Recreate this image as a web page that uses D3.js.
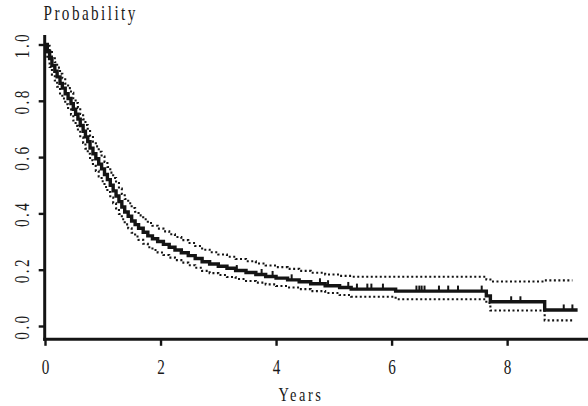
<!DOCTYPE html>
<html>
<head>
<meta charset="utf-8">
<script src="https://cdn.jsdelivr.net/npm/d3@7"></script>
<style>
  html, body { margin: 0; padding: 0; background: #fff; }
  svg { display: block; }
  text { font-family: "Liberation Serif", "Times New Roman", serif; fill: #1a1a1a; }
</style>
</head>
<body>
<svg id="chart" width="588" height="406"></svg>
<script>
// ---- data ----
const eventTimes = [0.04,0.08,0.12,0.17,0.21,0.26,0.30,0.35,0.40,0.45,0.49,0.53,0.57,0.61,0.66,0.70,0.74,0.78,0.83,0.88,0.93,0.98,1.03,1.08,1.13,1.18,1.23,1.28,1.33,1.38,1.44,1.50,1.56,1.62,1.70,1.78,1.86,1.95,2.05,2.15,2.25,2.36,2.48,2.60,2.72,2.85,3.00,3.15,3.30,3.48,3.65,3.82,4.00,4.20,4.40,4.60,4.85,5.10,5.30,6.07,7.64,7.71,8.65];
const survival = [0.975,0.950,0.925,0.905,0.885,0.862,0.845,0.825,0.808,0.790,0.770,0.752,0.735,0.712,0.692,0.672,0.655,0.632,0.612,0.594,0.575,0.558,0.538,0.520,0.500,0.480,0.462,0.442,0.423,0.405,0.390,0.373,0.360,0.347,0.333,0.320,0.310,0.300,0.290,0.280,0.270,0.260,0.250,0.240,0.228,0.220,0.212,0.205,0.197,0.190,0.183,0.176,0.170,0.164,0.157,0.150,0.143,0.137,0.131,0.124,0.107,0.086,0.057];
const upperCI = [0.995,0.978,0.955,0.937,0.918,0.896,0.880,0.861,0.845,0.828,0.809,0.792,0.775,0.753,0.734,0.714,0.697,0.675,0.655,0.638,0.619,0.602,0.583,0.565,0.545,0.526,0.508,0.488,0.469,0.451,0.436,0.419,0.406,0.393,0.379,0.366,0.356,0.346,0.336,0.326,0.316,0.305,0.295,0.284,0.271,0.262,0.254,0.246,0.238,0.230,0.222,0.215,0.209,0.203,0.196,0.189,0.183,0.178,0.175,0.175,0.165,0.158,0.162];
const lowerCI = [0.950,0.920,0.893,0.872,0.850,0.826,0.808,0.788,0.770,0.751,0.730,0.711,0.694,0.670,0.650,0.630,0.612,0.589,0.569,0.551,0.531,0.514,0.494,0.476,0.456,0.436,0.418,0.398,0.379,0.361,0.347,0.331,0.318,0.306,0.292,0.280,0.270,0.261,0.252,0.243,0.234,0.225,0.216,0.207,0.196,0.188,0.181,0.174,0.167,0.160,0.154,0.148,0.142,0.137,0.131,0.124,0.117,0.110,0.104,0.095,0.082,0.055,0.020];
const censorTimes = [3.32,3.75,3.94,4.27,4.76,4.90,5.25,5.40,5.58,5.65,5.85,6.43,6.48,6.52,6.57,6.82,6.98,7.15,7.56,8.07,8.23,8.98,9.13];
const lastFollowUp = 9.22;
const lastCITime = 9.13;
const xTicks = [0,2,4,6,8];
const yTicks = [0.0,0.2,0.4,0.6,0.8,1.0];
const xLabel = "Years";
const yLabel = "Probability";

// ---- layout ----
const svg = d3.select("#chart");
svg.append("rect").attr("width",588).attr("height",406).attr("fill","#fff");

const x = d3.scaleLinear().domain([0, 9.4]).range([45, 588]);
const y = d3.scaleLinear().domain([0, 1]).range([326, 44.5]);
const axisX = 44.7, axisY = 339.3;
const ink = "#141414";
const sx = 0.76, fs = 20, ls = 3.2;

function series(vals, endT) {
  const pts = [{t:0, s:1}];
  eventTimes.forEach((t,i) => pts.push({t, s: vals[i]}));
  pts.push({t: endT, s: vals[vals.length-1]});
  return pts;
}
const line = d3.line().x(d => x(d.t)).y(d => y(d.s)).curve(d3.curveStepAfter);

// confidence limits
[upperCI, lowerCI].forEach(v => {
  svg.append("path").datum(series(v, lastCITime))
    .attr("d", line).attr("fill","none").attr("stroke", ink)
    .attr("stroke-width", 2.1).attr("stroke-dasharray","2,2.5");
});

// main curve
svg.append("path").datum(series(survival, lastFollowUp))
  .attr("d", line).attr("fill","none").attr("stroke", ink)
  .attr("stroke-width", 3.4).attr("stroke-linejoin","miter");

// censor marks
function survAt(t) {
  let s = 1;
  eventTimes.forEach((et,i) => { if (et <= t) s = survival[i]; });
  return s;
}
svg.append("g").selectAll("line").data(censorTimes).join("line")
  .attr("x1", d => x(d)).attr("x2", d => x(d))
  .attr("y1", d => y(survAt(d))).attr("y2", d => y(survAt(d)) - 5.5)
  .attr("stroke", ink).attr("stroke-width", 2);

// axes
const gy = svg.append("g").attr("transform", `translate(${axisX},0)`)
  .call(d3.axisLeft(y).tickValues(yTicks).tickFormat(d3.format(".1f")).tickSize(6).tickSizeOuter(0));
gy.select(".domain").remove();
gy.selectAll(".tick line").attr("stroke", ink).attr("stroke-width", 2.4);
gy.selectAll(".tick text")
  .attr("x", null).attr("dy", null)
  .attr("transform", `translate(${29 - axisX},0) rotate(-90) scale(${sx},1)`)
  .attr("text-anchor","middle")
  .style("font-size", fs + "px").style("letter-spacing", ls + "px")
  .style("font-family", '"Liberation Serif", serif').attr("fill", "#1a1a1a");

const gx = svg.append("g").attr("transform", `translate(0,${axisY})`)
  .call(d3.axisBottom(x).tickValues(xTicks).tickFormat(d3.format("d")).tickSize(6.5).tickSizeOuter(0));
gx.select(".domain").remove();
gx.selectAll(".tick line").attr("stroke", ink).attr("stroke-width", 2.4);
gx.selectAll(".tick text")
  .attr("y", null).attr("dy", null)
  .attr("transform", `translate(1.2,${373.5 - axisY}) scale(${sx},1)`)
  .attr("text-anchor","middle")
  .style("font-size", fs + "px").style("letter-spacing", ls + "px")
  .style("font-family", '"Liberation Serif", serif').attr("fill", "#1a1a1a");

// axis lines
svg.append("line").attr("x1", axisX).attr("x2", axisX).attr("y1", 35).attr("y2", axisY + 1.5)
  .attr("stroke", ink).attr("stroke-width", 3);
svg.append("line").attr("x1", axisX - 1.5).attr("x2", 588).attr("y1", axisY).attr("y2", axisY)
  .attr("stroke", ink).attr("stroke-width", 3);

// titles
svg.append("text").text(yLabel)
  .attr("transform", `translate(43.5,19.5) scale(${sx},1)`)
  .style("font-size", fs + "px").style("letter-spacing", ls + "px");
svg.append("text").text(xLabel)
  .attr("transform", `translate(301,401) scale(${sx},1)`)
  .attr("text-anchor","middle")
  .style("font-size", "19px").style("letter-spacing", "3.4px");
</script>
</body>
</html>
